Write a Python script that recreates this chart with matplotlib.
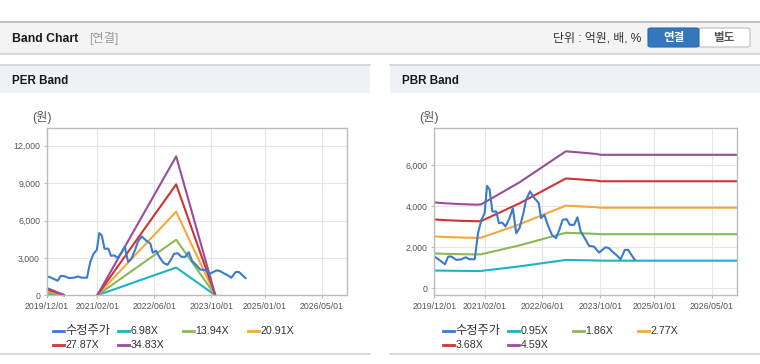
import numpy as np
import pandas as pd
import matplotlib
matplotlib.use("Agg")
import matplotlib.pyplot as plt
import matplotlib.patches as patches
import matplotlib.ticker as mticker
import matplotlib.dates as mdates
from matplotlib.lines import Line2D

plt.rcParams['font.family'] = ['Liberation Sans', 'Noto Sans CJK KR', 'DejaVu Sans']

# --- データ ---
price_dates = ['2019-12-01', '2020-01-04', '2020-02-29', '2020-03-27', '2020-04-24',
               '2020-06-05', '2020-07-17', '2020-08-23', '2020-09-20', '2020-11-06',
               '2020-12-04', '2021-01-01', '2021-01-29', '2021-02-18', '2021-03-12',
               '2021-04-04', '2021-05-07', '2021-05-29', '2021-06-26', '2021-07-24',
               '2021-08-27', '2021-09-24', '2021-10-22', '2021-11-19', '2021-12-22',
               '2022-01-14', '2022-02-16', '2022-03-25', '2022-04-30', '2022-05-20',
               '2022-06-17', '2022-07-15', '2022-08-20', '2022-09-23', '2022-10-21',
               '2022-11-18', '2022-12-21', '2023-01-18', '2023-02-23', '2023-03-23',
               '2023-04-20', '2023-06-01', '2023-06-29', '2023-08-10', '2023-09-21',
               '2023-10-19', '2023-11-16', '2023-12-14', '2024-01-11', '2024-02-14',
               '2024-03-21', '2024-04-26', '2024-05-24', '2024-06-21', '2024-07-19']
price = [1545, 1415, 1170, 1545, 1545, 1380, 1415, 1510, 1415, 1415,
         2680, 3330, 3660, 4990, 4800, 3740, 3740, 3170, 3200, 3010,
         3415, 3900, 2680, 2930, 3660, 4310, 4720, 4390, 4150, 3415,
         3580, 3090, 2600, 2440, 2850, 3330, 3370, 3090, 3090, 3460,
         2760, 2360, 2065, 2030, 1740, 1870, 2000, 1950, 1790, 1625,
         1415, 1870, 1870, 1625, 1380]

per_dates = ['2019-12-01', '2020-05-01', '2020-05-02', '2021-02-01', '2022-12-06', '2023-11-05']
per_labels = ['6.98X', '13.94X', '20.91X', '27.87X', '34.83X']
per_6_98 = [118, 0, np.nan, 0, 2225, 0]
per_13_94 = [236, 0, np.nan, 0, 4460, 0]
per_20_91 = [354, 0, np.nan, 0, 6710, 0]
per_27_87 = [472, 0, np.nan, 0, 8895, 0]
per_34_83 = [580, 0, np.nan, 0, 11145, 0]

pbr_dates = ['2019-12-01', '2020-03-01', '2020-07-01', '2020-12-01', '2021-01-01',
             '2021-11-19', '2022-12-15', '2023-04-01', '2023-09-01', '2023-10-01', '2026-12-01']
pbr_labels = ['0.95X', '1.86X', '2.77X', '3.68X', '4.59X']
pbr_0_95 = [865, 857, 849, 842, 847, 1068, 1381, 1370, 1353, 1346, 1346]
pbr_1_86 = [1694, 1678, 1661, 1649, 1657, 2091, 2703, 2682, 2650, 2634, 2634]
pbr_2_77 = [2523, 2499, 2474, 2456, 2468, 3114, 4025, 3995, 3947, 3923, 3923]
pbr_3_68 = [3351, 3319, 3287, 3263, 3279, 4137, 5347, 5307, 5243, 5211, 5211]
pbr_4_59 = [4180, 4140, 4100, 4070, 4090, 5160, 6670, 6620, 6540, 6500, 6500]

x_ticks = ['2019-12-01', '2021-02-01', '2022-06-01', '2023-10-01', '2025-01-01', '2026-05-01']

# --- スタイル ---
price_color = '#3a7bcc'
band_colors = ['#1db3c6', '#8cb955', '#f2a93b', '#d03430', '#9a4c9c']
W, H = 760, 364

fig = plt.figure(figsize=(W / 100, H / 100), dpi=100)
fig.patch.set_facecolor('white')


def fx(x):
    return x / W


def fy(y):
    return 1 - y / H


def rect(x0, y0, x1, y1, **kw):
    fig.add_artist(patches.Rectangle((fx(x0), fy(y1)), fx(x1 - x0), (y1 - y0) / H,
                                     transform=fig.transFigure, **kw))


def hline(x0, x1, y, color, lw=1):
    fig.add_artist(Line2D([fx(x0), fx(x1)], [fy(y), fy(y)], transform=fig.transFigure,
                          color=color, lw=lw))


# ヘッダー
rect(0, 22, W, 53, facecolor='#f4f4f4', edgecolor='none')
hline(0, W, 22, '#b8b8b8', 1.2)
hline(0, W, 53.5, '#d8d8d8', 1.5)
fig.text(fx(12), fy(38.5), 'Band Chart', fontsize=8.8, fontweight='bold', color='#1a1a1a', va='center')
fig.text(fx(89), fy(38.5), '[연결]', fontsize=8.8, color='#999999', va='center')
fig.text(fx(641), fy(38.5), '단위 : 억원, 배, %', fontsize=8.6, color='#333333', va='center', ha='right')
fig.add_artist(patches.FancyBboxPatch((fx(698), fy(47)), fx(52), 19 / H,
                                      boxstyle='round,pad=0,rounding_size=0.004',
                                      transform=fig.transFigure, facecolor='white', edgecolor='#bdbdbd', lw=0.8))
fig.add_artist(patches.FancyBboxPatch((fx(648), fy(47)), fx(51), 19 / H,
                                      boxstyle='round,pad=0,rounding_size=0.004',
                                      transform=fig.transFigure, facecolor='#3577bd', edgecolor='#2d68a8', lw=0.8))
fig.text(fx(673.5), fy(38), '연결', fontsize=8.3, fontweight='bold', color='white', va='center', ha='center')
fig.text(fx(724), fy(38), '별도', fontsize=8.3, fontweight='bold', color='#555555', va='center', ha='center')

# パネル
panels = [(0, 370, 'PER Band'), (390, 760, 'PBR Band')]
for x0, x1, title in panels:
    rect(x0, 64, x1, 93, facecolor='#eef2f7', edgecolor='none')
    hline(x0, x1, 64.5, '#d4d4d4', 1.2)
    hline(x0, x1, 354, '#d4d4d4', 1.2)
    fig.text(fx(x0 + 12), fy(80.5), title, fontsize=8.4, fontweight='bold', color='#1a1a1a', va='center')


def style_axes(ax, ylim, yticks):
    ax.set_xlim(pd.Timestamp('2019-12-01'), pd.Timestamp('2026-12-01'))
    ax.set_ylim(*ylim)
    ax.set_xticks(pd.to_datetime(x_ticks))
    ax.xaxis.set_major_formatter(mdates.DateFormatter('%Y/%m/%d'))
    ax.set_yticks(yticks)
    ax.yaxis.set_major_formatter(mticker.FuncFormatter(lambda v, p: f'{int(v):,}'))
    ax.grid(True, color='#e6e6e6', lw=0.8)
    ax.set_axisbelow(True)
    for s in ax.spines.values():
        s.set_color('#bcbcbc')
        s.set_linewidth(1)
    ax.tick_params(length=2, color='#bcbcbc', labelsize=6.3, labelcolor='#555555', pad=3)


def draw_legend(x_start, labels, colors):
    items = [('수정주가', price_color, 8.8)] + [(l, c, 7.7) for l, c in zip(labels, colors)]
    for i, (lab, c, fs) in enumerate(items):
        col, row = i % 4, i // 4
        x = x_start + col * 65
        y = 331 + row * 13.5
        fig.add_artist(Line2D([fx(x), fx(x + 11)], [fy(y), fy(y)], transform=fig.transFigure, color=c, lw=2))
        fig.text(fx(x + 13), fy(y), lab, fontsize=fs, color='#333333', va='center')


price_x = pd.to_datetime(price_dates)

# PER Band
ax1 = fig.add_axes([fx(47), fy(295.3), fx(300), (295.3 - 128) / H])
per_x = pd.to_datetime(per_dates)
for vals, c in zip([per_6_98, per_13_94, per_20_91, per_27_87, per_34_83], band_colors):
    ax1.plot(per_x, vals, color=c, lw=1.5, clip_on=False, solid_capstyle='butt')
ax1.plot(price_x, price, color=price_color, lw=1.5)
style_axes(ax1, (0, 13420), [0, 3000, 6000, 9000, 12000])
fig.text(fx(32), fy(118), '(원)', fontsize=8.8, color='#555555', va='center')
draw_legend(52.7, per_labels, band_colors)

# PBR Band
ax2 = fig.add_axes([fx(434.3), fy(295.3), fx(303), (295.3 - 128) / H])
pbr_x = pd.to_datetime(pbr_dates)
for vals, c in zip([pbr_0_95, pbr_1_86, pbr_2_77, pbr_3_68, pbr_4_59], band_colors):
    ax2.plot(pbr_x, vals, color=c, lw=1.5)
ax2.plot(price_x, price, color=price_color, lw=1.5)
style_axes(ax2, (-341, 7805), [0, 2000, 4000, 6000])
fig.text(fx(419), fy(118), '(원)', fontsize=8.8, color='#555555', va='center')
draw_legend(442.7, pbr_labels, band_colors)

fig.savefig('out.png', dpi=100, facecolor='white')
